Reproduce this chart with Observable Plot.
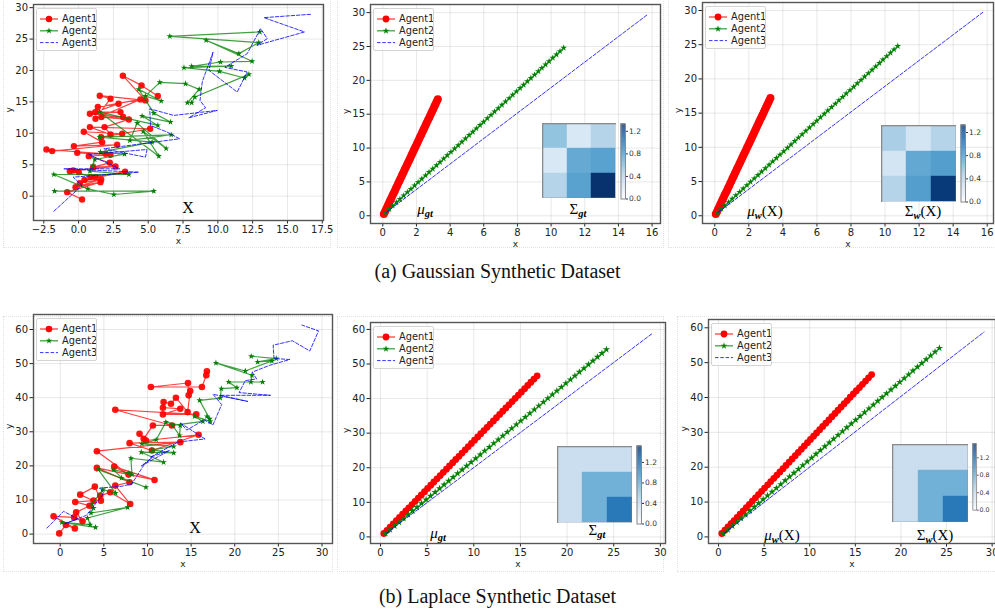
<!DOCTYPE html>
<html><head><meta charset="utf-8">
<script src="https://cdn.jsdelivr.net/npm/d3@7"></script>
<script src="https://cdn.jsdelivr.net/npm/@observablehq/plot@0.6"></script>
<style>
body{margin:0;background:#fff;}
#root{position:relative;width:995px;height:609px;overflow:hidden;background:#fff;font-family:"DejaVu Sans",sans-serif;}
.abs{position:absolute;}
.box{position:absolute;border:1px dotted #e0e0e0;box-sizing:border-box;}
.lbl{position:absolute;transform:translate(-50%,-50%);font-family:"Liberation Serif","DejaVu Serif",serif;white-space:nowrap;color:#000;line-height:1;}
.cap{position:absolute;left:0;width:995px;text-align:center;font-family:"Liberation Serif","Times New Roman",serif;font-size:20px;line-height:24px;color:#111;}
.leg{position:absolute;background:rgba(255,255,255,0.85);border:1px solid #d4d4d4;border-radius:2px;}
sub{font-size:70%;vertical-align:-0.3em;}
</style></head><body><div id="root"></div>
<script>
// ---------- Gaussian dataset: raw trajectories X ----------
const gX1x = [0.25,-0.82,1.57,-0.22,1.62,0.09,1.21,0.42,3.34,0.85,-0.39,0.01,-0.63,2.65,1.04,2.24,0.73,2.29,-0.10,1.93,-2.31,-1.90,2.77,-0.34,1.69,0.37,3.13,1.62,5.14,0.81,2.29,1.86,3.61,1.64,3.20,0.81,3.01,1.19,2.87,1.38,4.44,1.21,2.29,1.52,4.80,3.18,4.52,5.69];
const gX1y = [-0.53,0.64,2.23,1.43,2.66,2.07,3.03,2.60,3.88,3.03,4.09,3.82,3.98,4.73,4.62,5.31,6.37,6.59,6.90,6.74,7.43,7.17,8.18,7.97,8.60,10.25,9.93,9.40,10.73,10.99,9.82,10.99,12.21,12.59,12.59,13.12,13.38,13.38,14.71,14.18,15.40,12.32,15.51,15.99,15.24,19.17,17.63,15.93];
const gX2x = [-1.73,5.40,2.53,0.66,-1.78,3.61,0.81,1.04,1.16,3.30,1.57,5.28,1.52,6.65,3.68,4.21,6.29,4.64,5.76,1.50,5.69,4.56,6.60,5.40,4.32,5.93,4.80,5.83,7.68,8.66,7.81,8.12,8.35,12.23,11.92,10.12,7.57,10.96,8.12,10.19,12.46,9.16,11.51,12.94,6.55,13.02];
const gX2y = [0.80,0.80,0.27,1.17,3.45,3.45,3.98,4.89,5.84,6.69,7.01,8.60,9.40,9.77,8.87,11.63,7.59,10.30,6.37,13.38,11.26,12.75,11.79,13.22,16.99,15.14,15.93,18.11,17.90,16.99,14.87,14.87,15.77,19.38,18.80,19.86,20.45,20.71,20.66,21.35,21.46,24.80,22.68,24.43,25.44,26.13];
const gX3x = [-1.78,0.25,-0.39,4.32,-1.06,2.95,0.73,4.92,4.80,1.81,7.25,6.36,5.16,5.11,6.84,9.96,7.92,9.12,8.72,8.89,9.66,9.36,11.39,12.11,10.5,12.11,13.07,13.55,12.8,16.23,13.31,16.66];
const gX3y = [-2.39,1.70,3.03,3.82,4.35,4.35,6.64,7.43,6.21,7.54,9.13,10.20,11.26,13.91,12.85,13.65,12.48,14.07,15.24,18.27,22.94,20.02,16.57,19.76,20.5,22.68,26.66,25.07,24.0,26.13,28.41,28.94];
// ---------- Gaussian dataset: mean trajectories ----------
const gM1x = [0.06,0.13,0.19,0.26,0.32,0.39,0.45,0.52,0.58,0.65,0.72,0.78,0.85,0.91,0.98,1.04,1.11,1.17,1.24,1.30,1.37,1.44,1.50,1.57,1.63,1.70,1.76,1.83,1.89,1.96,2.03,2.09,2.16,2.22,2.29,2.35,2.42,2.48,2.55,2.61,2.68,2.75,2.81,2.88,2.94,3.01,3.07,3.14,3.20,3.27];
const gM1y = [0.25,0.60,0.94,1.29,1.63,1.98,2.33,2.67,3.02,3.36,3.71,4.06,4.40,4.75,5.09,5.44,5.79,6.13,6.48,6.82,7.17,7.52,7.86,8.21,8.55,8.90,9.25,9.59,9.94,10.28,10.63,10.98,11.32,11.67,12.01,12.36,12.71,13.05,13.40,13.74,14.09,14.44,14.78,15.13,15.47,15.82,16.17,16.51,16.86,17.20];
const gM2x = [0.16,0.38,0.59,0.81,1.02,1.24,1.46,1.67,1.89,2.10,2.32,2.54,2.75,2.97,3.19,3.40,3.62,3.83,4.05,4.27,4.48,4.70,4.91,5.13,5.35,5.56,5.78,5.99,6.21,6.43,6.64,6.86,7.08,7.29,7.51,7.72,7.94,8.16,8.37,8.59,8.80,9.02,9.24,9.45,9.67,9.88,10.10,10.32,10.53,10.75];
const gM2y = [0.49,0.99,1.48,1.98,2.47,2.97,3.47,3.96,4.46,4.95,5.45,5.95,6.44,6.94,7.44,7.93,8.43,8.92,9.42,9.92,10.41,10.91,11.40,11.90,12.40,12.89,13.39,13.88,14.38,14.88,15.37,15.87,16.37,16.86,17.36,17.85,18.35,18.85,19.34,19.84,20.33,20.83,21.33,21.82,22.32,22.81,23.31,23.81,24.30,24.80];
const gM3x = [0.2,15.74];
const gM3y = [0.5,29.73];
// ---------- Laplace dataset: raw trajectories X ----------
const lX1x = [-0.11,0.65,1.68,-0.76,1.60,2.56,1.83,3.36,1.72,3.82,2.29,3.97,4.66,4.59,5.73,8.02,6.31,7.95,4.20,10.81,6.19,7.83,4.20,13.76,7.95,10.51,15.86,9.83,9.09,9.56,10.62,12.80,6.31,15.59,11.77,13.76,11.77,11.85,12.69,13.26,14.60,14.90,14.72,14.64,10.39,16.24,16.74,16.81];
const lX1y = [0.20,2.65,1.67,5.20,4.90,3.73,6.37,8.33,9.41,9.80,11.57,13.92,9.80,11.27,12.25,8.82,14.22,15.20,19.41,15.88,19.80,17.45,24.31,26.96,26.67,24.51,29.12,27.45,29.41,27.94,31.86,31.86,36.47,35.10,35.10,36.76,37.06,38.73,38.24,40.00,35.78,41.96,40.69,44.31,43.14,43.14,46.57,47.75];
const lX2x = [4.05,0.19,3.44,3.13,7.72,3.52,3.82,3.63,4.89,6.34,4.36,9.82,7.03,6.11,7.83,8.22,8.10,11.85,9.29,13.0,10.51,13.0,9.36,11.0,12.11,13.76,13.68,12.88,16.35,15.40,17.2,16.81,17.12,15.97,18.34,18.46,20.25,19.30,23.19,21.85,21.97,17.84,21.21,24.26,22.62,24.76,21.89];
const lX2y = [1.96,3.43,2.75,4.71,7.84,6.18,7.65,8.82,13.04,12.06,18.92,13.73,16.47,18.92,17.84,17.45,22.25,21.08,24.02,23.82,24.71,25.69,26.47,27.65,32.84,31.86,28.92,31.86,33.04,34.51,33.04,34.51,33.82,39.22,39.90,42.65,42.94,44.61,44.61,44.61,46.57,50.20,47.84,50.78,50.49,51.47,52.16];
const lX3x = [-1.53,0.38,2.0,0.5,3.0,5.0,4.5,7.0,8.2,9.55,10.5,9.3,12.5,10.3,13.5,16.6,13.8,14.5,16.5,17.5,18.5,17.5,21.5,18.3,24.1,20.5,21.2,22.5,22.0,24.0,26.3,24.5,24.4,26.6,28.6,29.6,27.7];
const lX3y = [1.76,6.67,4.5,3.0,5.5,12.0,13.5,14.0,14.7,20.1,22.4,20.0,24.5,22.5,27.0,27.9,32.5,30.5,33.5,32.0,38.0,41.0,38.9,40.7,40.7,41.5,45.0,45.5,47.5,49.5,51.2,51.5,55.4,56.7,53.7,59.6,61.3];
// ---------- Laplace dataset: mean trajectories ----------
const lM1x = [0.36,0.70,1.03,1.37,1.70,2.04,2.37,2.71,3.04,3.38,3.71,4.05,4.38,4.72,5.05,5.39,5.72,6.06,6.40,6.73,7.07,7.40,7.74,8.07,8.41,8.74,9.08,9.41,9.75,10.08,10.42,10.75,11.09,11.42,11.76,12.10,12.43,12.77,13.10,13.44,13.77,14.11,14.44,14.78,15.11,15.45,15.78,16.12,16.45,16.79];
const lM1y = [0.98,1.91,2.84,3.77,4.70,5.63,6.56,7.49,8.42,9.36,10.29,11.22,12.15,13.08,14.01,14.94,15.87,16.80,17.73,18.66,19.59,20.52,21.45,22.38,23.31,24.25,25.18,26.11,27.04,27.97,28.90,29.83,30.76,31.69,32.62,33.55,34.48,35.41,36.34,37.27,38.20,39.13,40.07,41.00,41.93,42.86,43.79,44.72,45.65,46.58];
const lM2x = [0.54,1.02,1.51,1.99,2.47,2.96,3.44,3.92,4.41,4.89,5.37,5.86,6.34,6.82,7.31,7.79,8.27,8.76,9.24,9.72,10.21,10.69,11.17,11.66,12.14,12.62,13.11,13.59,14.07,14.56,15.04,15.52,16.01,16.49,16.97,17.46,17.94,18.42,18.91,19.39,19.87,20.36,20.84,21.32,21.81,22.29,22.77,23.26,23.74,24.22];
const lM2y = [0.98,2.07,3.15,4.24,5.32,6.41,7.49,8.58,9.67,10.75,11.84,12.92,14.01,15.09,16.18,17.27,18.35,19.44,20.52,21.61,22.69,23.78,24.87,25.95,27.04,28.12,29.21,30.29,31.38,32.47,33.55,34.64,35.72,36.81,37.89,38.98,40.07,41.15,42.24,43.32,44.41,45.49,46.58,47.67,48.75,49.84,50.92,52.01,53.09,54.18];
const lM3x = [0.6,29.12];
const lM3y = [1.0,58.8];
// ---------- covariance matrices ----------
const sigmaGt_G = [[0.53,0.20,0.40],[0.20,0.69,0.74],[0.40,0.74,1.32]];
const sigmaW_G  = [[0.45,0.24,0.40],[0.24,0.70,0.76],[0.40,0.76,1.28]];
const sigmaGt_L = [[0.34,0.34,0.34],[0.34,0.74,0.74],[0.34,0.74,1.10]];
const sigmaW_L  = [[0.34,0.34,0.34],[0.34,0.74,0.74],[0.34,0.74,1.10]];
const vmaxG = 1.33, vmaxL = 1.52;
// ---------- tick labels ----------
const ticksX1 = [-2.5,0,2.5,5,7.5,10,12.5,15,17.5];
const ticksY1 = [0,5,10,15,20,25,30];
const ticksX2 = [0,2,4,6,8,10,12,14,16];
const ticksY2 = [0,5,10,15,20,25,30];
const ticksXL = [0,5,10,15,20,25,30];
const ticksYL = [0,10,20,30,40,50,60];
const cbTicks = [0,0.4,0.8,1.2];
const agentNames = ["Agent1","Agent2","Agent3"];

const root = document.getElementById("root");
const RED = "#ff0000", GREEN = "#008000", BLUE = "#0000ff";
const pts = (xs, ys) => xs.map((x, i) => ({x, y: ys[i]})).filter(d => d.y !== undefined);

function place(el, left, top) {
  const d = document.createElement("div");
  d.className = "abs"; d.style.left = left + "px"; d.style.top = top + "px";
  d.appendChild(el); root.appendChild(d); return d;
}

function panel(o) {
  const marks = [];
  const a1 = pts(o.a1x, o.a1y), a2 = pts(o.a2x, o.a2y), a3 = pts(o.a3x, o.a3y);
  marks.push(Plot.line(a1, {x: "x", y: "y", stroke: RED, strokeWidth: 1.2, strokeOpacity: 0.75}));
  marks.push(Plot.dot(a1, {x: "x", y: "y", r: o.cr, fill: RED, fillOpacity: o.raw ? 0.92 : 1}));
  marks.push(Plot.line(a2, {x: "x", y: "y", stroke: GREEN, strokeWidth: 1.2, strokeOpacity: 0.75}));
  marks.push(Plot.dot(a2, {x: "x", y: "y", r: o.sr, symbol: "star", fill: GREEN}));
  marks.push(Plot.line(a3, {x: "x", y: "y", stroke: BLUE, strokeWidth: 1, strokeOpacity: 0.8, strokeDasharray: "3.5,1.8"}));
  const chart = Plot.plot({
    width: o.w, height: o.h,
    marginLeft: o.ml, marginRight: o.mr, marginTop: o.mt, marginBottom: o.mb,
    style: {fontFamily: "DejaVu Sans, sans-serif", fontSize: "10px", color: "#222", background: "transparent", overflow: "visible"},
    x: {domain: o.xd, ticks: o.xt, tickFormat: o.xf, label: null, grid: true, tickSize: 3.5, tickPadding: 2},
    y: {domain: o.yd, ticks: o.yt, tickFormat: d3.format("d"), label: null, grid: true, tickSize: 3.5, tickPadding: 2},
    marks: [
      ...marks,
      Plot.frame({stroke: "#555", strokeWidth: 1.4}),
      Plot.text(["x"], {text: d => d, frameAnchor: "bottom", dy: 23, fontSize: 9}),
      Plot.text(["y"], {text: d => d, frameAnchor: "left", dx: -24, rotate: -90, fontSize: 9})
    ]
  });
  place(chart, o.left, o.top);
  legend(o.left + o.ml + 3, o.top + o.mt + 4, o.raw ? o.cr : 3.4, o.raw ? o.sr : 2.1);
}

function legend(left, top, cr, sr) {
  const star = d3.symbol(d3.symbolStar, Math.PI * sr * sr)();
  const rows = [10, 21.8, 33.6];
  const d = document.createElement("div");
  d.className = "leg"; d.style.left = left + "px"; d.style.top = top + "px";
  d.style.width = "59px"; d.style.height = "41px";
  d.innerHTML = `<svg width="59" height="41" style="display:block;font-family:'DejaVu Sans',sans-serif;font-size:9.8px">
    <line x1="3" x2="21" y1="${rows[0]}" y2="${rows[0]}" stroke="${RED}" stroke-width="1.3" stroke-opacity="0.75"/>
    <circle cx="12" cy="${rows[0]}" r="${Math.min(cr, 3.4)}" fill="${RED}"/>
    <text x="25" y="${rows[0]}" dy="0.35em" fill="#222">${agentNames[0]}</text>
    <line x1="3" x2="21" y1="${rows[1]}" y2="${rows[1]}" stroke="${GREEN}" stroke-width="1.3" stroke-opacity="0.75"/>
    <path d="${star}" transform="translate(12,${rows[1]})" fill="${GREEN}"/>
    <text x="25" y="${rows[1]}" dy="0.35em" fill="#222">${agentNames[1]}</text>
    <line x1="3" x2="21" y1="${rows[2]}" y2="${rows[2]}" stroke="${BLUE}" stroke-width="1" stroke-dasharray="3.5,1.8" stroke-opacity="0.8"/>
    <text x="25" y="${rows[2]}" dy="0.35em" fill="#222">${agentNames[2]}</text>
  </svg>`;
  root.appendChild(d);
}

function heat(mat, vmax, left, top, w, h) {
  const cells = [];
  mat.forEach((row, i) => row.forEach((v, j) => cells.push({i, j, v})));
  const chart = Plot.plot({
    width: w, height: h, margin: 0,
    style: {background: "transparent"},
    x: {axis: null, domain: [0, 1, 2], padding: 0},
    y: {axis: null, domain: [0, 1, 2], padding: 0},
    color: {type: "linear", scheme: "blues", domain: [0, vmax]},
    marks: [
      Plot.cell(cells, {x: "j", y: "i", fill: "v", inset: -0.2}),
      Plot.frame({stroke: "#8a8a8a", strokeWidth: 1.6})
    ]
  });
  place(chart, left, top);
}

function cbar(vmax, left, top, h) {
  const step = vmax / 120;
  const steps = d3.range(0, vmax, step);
  const chart = Plot.plot({
    width: 28, height: h,
    marginLeft: 0.5, marginRight: 23, marginTop: 0.5, marginBottom: 0.5,
    style: {fontFamily: "DejaVu Sans, sans-serif", fontSize: "7.5px", color: "#333", background: "transparent", overflow: "visible"},
    x: {axis: null, domain: [0, 1]},
    y: {domain: [0, vmax], ticks: cbTicks, tickFormat: d3.format(".1f"), axis: "right", label: null, tickSize: 2, tickPadding: 1.5},
    color: {type: "linear", scheme: "blues", domain: [0, vmax]},
    marks: [
      Plot.rect(steps, {x1: 0, x2: 1, y1: d => d, y2: d => d + step * 1.05, fill: d => d}),
      Plot.frame({stroke: "#888", strokeWidth: 1})
    ]
  });
  place(chart, left, top);
}

function label(html, cx, cy, size) {
  const d = document.createElement("div");
  d.className = "lbl"; d.style.left = cx + "px"; d.style.top = cy + "px"; d.style.fontSize = size + "px";
  d.innerHTML = html; root.appendChild(d);
}

function box(l, t, w, h) {
  const d = document.createElement("div");
  d.className = "box"; d.style.left = l + "px"; d.style.top = t + "px"; d.style.width = w + "px"; d.style.height = h + "px";
  root.appendChild(d);
}

// subfigure boxes
box(3, -2, 328, 250); box(337, -2, 327, 250); box(668, -2, 330, 250);
box(3, 316, 330, 256); box(337, 316, 327, 256); box(677, 316, 320, 256);

const f1 = d3.format(".1f"), fd = d3.format("d");

// Row (a): Gaussian
panel({left: 0, top: 0, w: 330, h: 245, ml: 33, mr: 7, mt: 4, mb: 25, xd: [-3.24, 17.59], yd: [-3.87, 30.5], xt: ticksX1, yt: ticksY1, xf: f1,
  a1x: gX1x, a1y: gX1y, a2x: gX2x, a2y: gX2y, a3x: gX3x, a3y: gX3y, cr: 3.2, sr: 2.0, raw: true});
panel({left: 335, top: 0, w: 330, h: 245, ml: 35, mr: 5, mt: 4, mb: 22, xd: [-0.73, 16.5], yd: [-1.14, 31.2], xt: ticksX2, yt: ticksY2, xf: fd,
  a1x: gM1x, a1y: gM1y, a2x: gM2x, a2y: gM2y, a3x: gM3x, a3y: gM3y, cr: 4, sr: 2.1});
panel({left: 668, top: 0, w: 327, h: 245, ml: 34, mr: 2, mt: 2, mb: 22, xd: [-0.72, 16.37], yd: [-1.13, 31.17], xt: ticksX2, yt: ticksY2, xf: fd,
  a1x: gM1x, a1y: gM1y, a2x: gM2x, a2y: gM2y, a3x: gM3x, a3y: gM3y, cr: 4, sr: 2.1});

// Row (b): Laplace
panel({left: 0, top: 305, w: 335, h: 265, ml: 33, mr: 3, mt: 9, mb: 27, xd: [-3.06, 31.2], yd: [-2.76, 64.4], xt: ticksXL, yt: ticksYL, xf: fd,
  a1x: lX1x, a1y: lX1y, a2x: lX2x, a2y: lX2y, a3x: lX3x, a3y: lX3y, cr: 3.3, sr: 2.0, raw: true});
panel({left: 335, top: 305, w: 332, h: 265, ml: 35, mr: 2, mt: 17, mb: 27, xd: [-1.07, 30.55], yd: [-1.91, 62.0], xt: ticksXL, yt: ticksYL, xf: fd,
  a1x: lM1x, a1y: lM1y, a2x: lM2x, a2y: lM2y, a3x: lM3x, a3y: lM3y, cr: 3.4, sr: 2.3});
panel({left: 668, top: 305, w: 327, h: 265, ml: 40, mr: 0, mt: 14, mb: 27, xd: [-1.10, 30.37], yd: [-1.89, 62.38], xt: ticksXL, yt: ticksYL, xf: fd,
  a1x: lM1x, a1y: lM1y, a2x: lM2x, a2y: lM2y, a3x: lM3x, a3y: lM3y, cr: 3.4, sr: 2.3});

// covariance insets
heat(sigmaGt_G, vmaxG, 542, 123, 74, 75); cbar(vmaxG, 619.5, 122.5, 76);
heat(sigmaW_G, vmaxG, 881, 125, 75, 77); cbar(vmaxG, 959.5, 124, 78);
heat(sigmaGt_L, vmaxL, 557, 446, 75, 77); cbar(vmaxL, 635.5, 445, 79);
heat(sigmaW_L, vmaxL, 892, 444, 76, 78); cbar(vmaxL, 971.5, 443, 80);

// annotations
const mu = '<i>μ</i>', SIG = 'Σ';
label('X', 188, 208, 16);
label(`${mu}<sub><i><b>gt</b></i></sub>`, 425, 211, 15);
label(`${SIG}<sub><i><b>gt</b></i></sub>`, 578, 211, 15);
label(`${mu}<sub><i><b>w</b></i></sub>(X)`, 765, 213, 15);
label(`${SIG}<sub><i><b>w</b></i></sub>(X)`, 923, 213, 15);
label('X', 195, 528, 16);
label(`${mu}<sub><i><b>gt</b></i></sub>`, 438, 535, 15);
label(`${SIG}<sub><i><b>gt</b></i></sub>`, 597, 532, 15);
label(`${mu}<sub><i><b>w</b></i></sub>(X)`, 782, 537, 15);
label(`${SIG}<sub><i><b>w</b></i></sub>(X)`, 935, 537, 15);

// captions
const capA = document.createElement("div"); capA.className = "cap"; capA.style.top = "259px";
capA.textContent = "(a)  Gaussian Synthetic Dataset"; root.appendChild(capA);
const capB = document.createElement("div"); capB.className = "cap"; capB.style.top = "584px";
capB.textContent = "(b)  Laplace Synthetic Dataset"; root.appendChild(capB);
</script>
</body></html>
